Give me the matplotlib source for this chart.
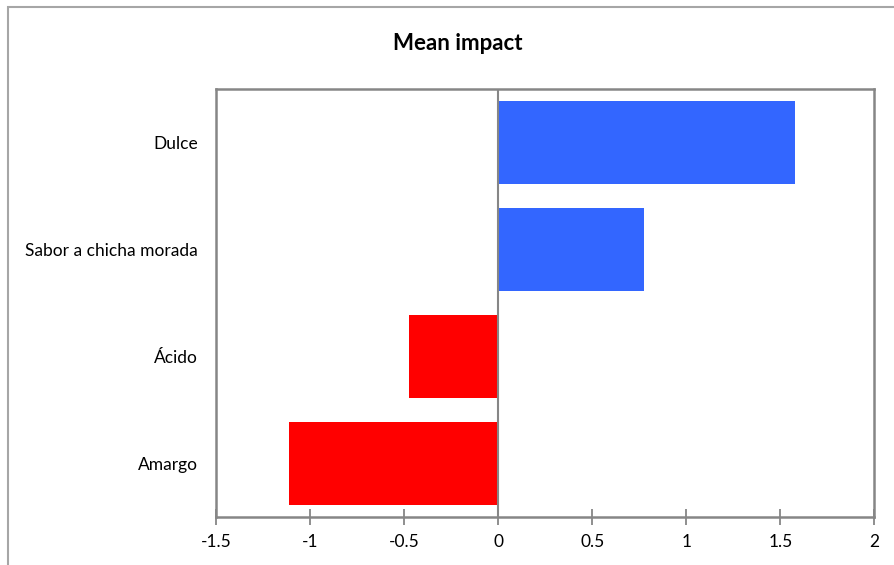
import matplotlib
matplotlib.use("Agg")
import matplotlib.pyplot as plt
from matplotlib.patches import Rectangle

categories = ["Dulce", "Sabor a chicha morada", "Ácido", "Amargo"]
mean_impact = [1.575, 0.773, -0.473, -1.113]
x_ticks = [-1.5, -1, -0.5, 0, 0.5, 1, 1.5, 2]
x_tick_labels = ["-1.5", "-1", "-0.5", "0", "0.5", "1", "1.5", "2"]
title = "Mean impact"

plt.rcParams["font.family"] = ["Lato", "DejaVu Sans"]

W, H = 895, 565
fig = plt.figure(figsize=(W / 100, H / 100), dpi=100)

# outer chart frame
fig.patches.append(Rectangle((8 / W, -0.1), 1.2, (H - 7) / H + 0.1,
                             transform=fig.transFigure, fill=False,
                             edgecolor="#a6a6a6", linewidth=1.5))

ax = fig.add_axes([216 / W, (H - 517) / H, 658.5 / W, 428 / H])

ypos = list(range(len(categories)))[::-1]
colors = ["#3366ff" if v >= 0 else "#ff0000" for v in mean_impact]
ax.barh(ypos, mean_impact, height=0.77, color=colors)

ax.set_xlim(-1.5, 2)
ax.set_ylim(-0.5, len(categories) - 0.5)
ax.set_xticks(x_ticks)
ax.set_xticklabels(x_tick_labels, fontsize=12.5)
ax.set_yticks(ypos)
ax.set_yticklabels(categories, fontsize=12.5)
ax.tick_params(axis="y", length=0, pad=13)
ax.tick_params(axis="x", direction="inout", length=11, width=1.3,
               color="#868686", pad=7)

ax.axvline(0, color="#868686", linewidth=1.5, zorder=3)
for s in ax.spines.values():
    s.set_color("#868686")
    s.set_linewidth(1.8)

fig.text(458 / W, (H - 43) / H, title, ha="center", va="center",
         fontsize=16, fontweight="bold")

fig.savefig("out.png", dpi=100)
